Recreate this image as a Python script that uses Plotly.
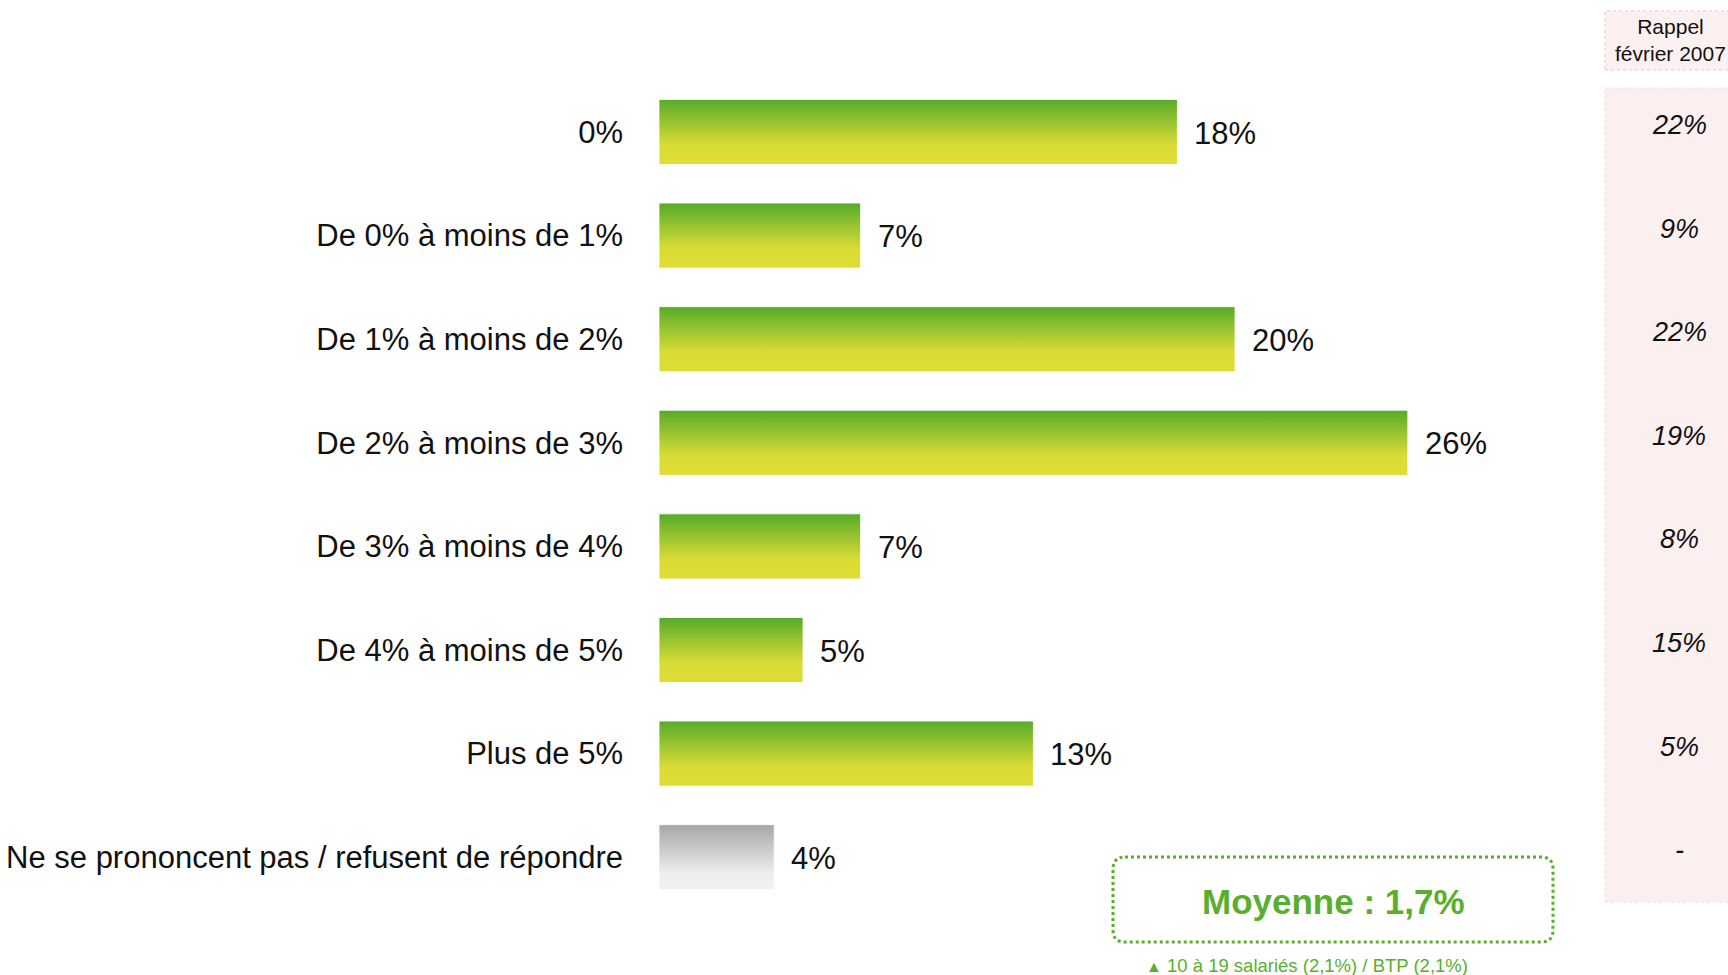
import plotly.graph_objects as go

categories = [
    "0%",
    "De 0% à moins de 1%",
    "De 1% à moins de 2%",
    "De 2% à moins de 3%",
    "De 3% à moins de 4%",
    "De 4% à moins de 5%",
    "Plus de 5%",
    "Ne se prononcent pas / refusent de répondre",
]
values = [18, 7, 20, 26, 7, 5, 13, 4]
rappel_2007 = ["22%", "9%", "22%", "19%", "8%", "15%", "5%", "-"]
moyenne_text = "Moyenne : 1,7%"
footnote_text = "10 à 19 salariés (2,1%) / BTP (2,1%)"

W, H = 1728, 975
PLOT_L = 659          # pixel where the x=0 baseline sits
PX_PER_PCT = 28.8
ROW_PX = 103.6
TOP_CENTER_PX = 132
HALF_BAR = 0.314      # in row units

GREEN_SCALE = [[0, "#dedd35"], [0.3, "#dadc35"], [0.65, "#98c430"], [1, "#55aa2a"]]
GREY_SCALE = [[0, "#f2f2f2"], [0.25, "#eeeeee"], [1, "#a6a6a6"]]
GREEN = "#5aae2e"
FONT = "Liberation Sans, Arial, sans-serif"

n = len(categories)
pos = [n - 1 - i for i in range(n)]  # top row gets highest y

fig = go.Figure()

for i, (cat, v) in enumerate(zip(categories, values)):
    p = pos[i]
    scale = GREY_SCALE if i == n - 1 else GREEN_SCALE
    fig.add_trace(go.Scatter(
        x=[0, v, v, 0, 0],
        y=[p - HALF_BAR, p - HALF_BAR, p + HALF_BAR, p + HALF_BAR, p - HALF_BAR],
        mode="lines",
        fill="toself",
        fillgradient=dict(type="vertical", colorscale=scale),
        line=dict(width=1, color="rgba(255,255,255,0.8)"),
        hoverinfo="text",
        hovertext=f"{cat} : {v}%",
        showlegend=False,
    ))
    fig.add_annotation(
        x=v, y=p, xref="x", yref="y",
        text=f"{v}%", showarrow=False,
        xanchor="left", yanchor="middle", xshift=15, yshift=-1,
        font=dict(size=31, color="#111111", family=FONT),
    )

plot_w = W - PLOT_L
x_max = plot_w / PX_PER_PCT
y_top = (n - 1) + TOP_CENTER_PX / ROW_PX
y_bot = y_top - H / ROW_PX


def px_x(px):
    return (px - PLOT_L) / plot_w


def px_y(py):
    return 1 - py / H


# Rappel column
fig.add_shape(type="rect", xref="paper", yref="paper",
              x0=px_x(1605), x1=px_x(1740), y0=px_y(70), y1=px_y(11),
              fillcolor="#fcf0f0", line=dict(color="#d5cccc", width=1, dash="dot"),
              layer="below")
fig.add_shape(type="rect", xref="paper", yref="paper",
              x0=px_x(1605), x1=px_x(1740), y0=px_y(902), y1=px_y(88),
              fillcolor="#fbefef", line=dict(color="#eadede", width=1, dash="dot"),
              layer="below")
fig.add_annotation(x=px_x(1670), y=px_y(40), xref="paper", yref="paper",
                   text="Rappel<br>février 2007", showarrow=False,
                   xanchor="center", yanchor="middle",
                   font=dict(size=21, color="#111111", family=FONT))
for i, r in enumerate(rappel_2007):
    fig.add_annotation(x=px_x(1679), y=pos[i], xref="paper", yref="y",
                       text=f"<i>{r}</i>", showarrow=False,
                       xanchor="center", yanchor="middle", yshift=7,
                       font=dict(size=27, color="#111111", family=FONT))

# Moyenne box (rounded, dotted)
bx0, bx1, by0, by1, rad = 1113, 1553, 857, 942, 12
path = (
    f"M {px_x(bx0 + rad)} {px_y(by0)} L {px_x(bx1 - rad)} {px_y(by0)} "
    f"Q {px_x(bx1)} {px_y(by0)} {px_x(bx1)} {px_y(by0 + rad)} "
    f"L {px_x(bx1)} {px_y(by1 - rad)} "
    f"Q {px_x(bx1)} {px_y(by1)} {px_x(bx1 - rad)} {px_y(by1)} "
    f"L {px_x(bx0 + rad)} {px_y(by1)} "
    f"Q {px_x(bx0)} {px_y(by1)} {px_x(bx0)} {px_y(by1 - rad)} "
    f"L {px_x(bx0)} {px_y(by0 + rad)} "
    f"Q {px_x(bx0)} {px_y(by0)} {px_x(bx0 + rad)} {px_y(by0)} Z"
)
fig.add_shape(type="path", xref="paper", yref="paper", path=path,
              line=dict(color=GREEN, width=3, dash="dot"), fillcolor="white")
fig.add_annotation(x=px_x(1333), y=px_y(901), xref="paper", yref="paper",
                   text=f"<b>{moyenne_text}</b>", showarrow=False,
                   xanchor="center", yanchor="middle",
                   font=dict(size=35, color=GREEN, family=FONT))
fig.add_annotation(x=px_x(1144), y=px_y(965), xref="paper", yref="paper",
                   text=f"<span style='font-size:16px'>▲</span> {footnote_text}",
                   showarrow=False, xanchor="left", yanchor="middle",
                   font=dict(size=18.5, color=GREEN, family=FONT))

fig.update_layout(
    width=W, height=H,
    margin=dict(l=PLOT_L, r=0, t=0, b=0),
    paper_bgcolor="white", plot_bgcolor="white",
    font=dict(family=FONT, color="#111111"),
    showlegend=False,
    xaxis=dict(range=[0, x_max], visible=False, fixedrange=True),
    yaxis=dict(
        range=[y_bot, y_top],
        tickvals=pos, ticktext=categories,
        showgrid=False, zeroline=False, showline=False, ticks="",
        ticklabelstandoff=35,
        tickfont=dict(size=31, color="#111111", family=FONT),
        fixedrange=True,
    ),
)

# drop the default body margin so the figure fills the window exactly
fig.write_html(
    "out.html",
    config={"displayModeBar": False},
    post_script="document.body.style.margin='0';document.body.style.overflow='hidden';",
)
